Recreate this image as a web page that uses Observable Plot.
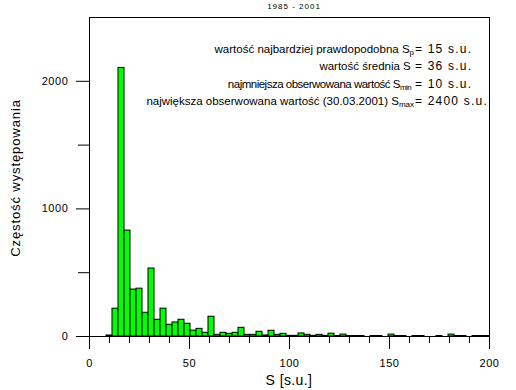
<!DOCTYPE html>
<html>
<head>
<meta charset="utf-8">
<script src="https://cdn.jsdelivr.net/npm/d3@7"></script>
<script src="https://cdn.jsdelivr.net/npm/@observablehq/plot@0.6"></script>
<style>
  html, body { margin: 0; padding: 0; background: #fff; }
</style>
</head>
<body>
<div id="chart"></div>
<script>
// ---- data ----
const title = "1985 - 2001";
const xLabel = "S [s.u.]";
const yLabel = "Częstość występowania";
const binWidth = 3;
const binCenters = [10, 13, 16, 19, 22, 25, 28, 31, 34, 37, 40, 43, 46, 49, 52, 55,
  58, 61, 64, 67, 70, 73, 76, 79, 82, 85, 88, 91, 94, 97, 100, 103,
  106, 109, 112, 115, 118, 121, 124, 127, 130, 133, 136, 139, 142, 145, 148, 151,
  154, 157, 160, 163, 166, 169, 172, 175, 178, 181, 184, 187, 190, 193, 196, 199];
const counts = [8, 218, 2105, 830, 368, 375, 186, 533, 131, 218, 92, 110, 131, 100, 46, 60,
  29, 155, 13, 29, 21, 29, 68, 13, 13, 37, 8, 45, 13, 21, 5, 5,
  24, 13, 5, 13, 5, 22, 4, 15, 4, 4, 4, 0, 4, 4, 0, 15,
  4, 4, 0, 4, 4, 0, 0, 4, 0, 15, 4, 4, 0, 4, 4, 4];
const xMajorTicks = [0, 50, 100, 150, 200];
const xMinorTicks = [10, 20, 30, 40, 60, 70, 80, 90, 110, 120, 130, 140, 160, 170, 180, 190];
const yMajorTicks = [0, 1000, 2000];
const yMinorTicks = [500, 1500];
const annotLeft = [
  ["wartość najbardziej prawdopodobna S", "p", ""],
  ["wartość średnia S ", "", ""],
  ["najmniejsza obserwowana wartość S", "min", " "],
  ["największa obserwowana wartość (30.03.2001) S", "max", ""]
];
const annotRight = ["= 15 s.u.", "= 36 s.u.", "= 10 s.u.", "= 2400 s.u."];

// ---- table ----
const bins = binCenters.map((c, i) => ({center: c, count: counts[i]}));

const FONT = "'Liberation Sans', Arial, sans-serif";

const svg = Plot.plot({
  width: 516,
  height: 390,
  marginLeft: 89,
  marginRight: 27,
  marginTop: 17,
  marginBottom: 54,
  x: {domain: [0, 200]},
  y: {domain: [0, 2500]},
  style: {fontFamily: FONT, fontSize: "11px", color: "black", background: "white", overflow: "visible"},
  marks: [
    Plot.rectY(bins, {
      x1: d => d.center - binWidth / 2,
      x2: d => d.center + binWidth / 2,
      y: "count",
      fill: "#00ff00",
      stroke: "black",
      strokeWidth: 1,
      clip: true
    }),
    Plot.frame({stroke: "black"}),
    Plot.axisX(xMajorTicks, {tickSize: 13, tickPadding: 10, tickFormat: d3.format("d"), label: null, stroke: "black"}),
    Plot.axisX(xMinorTicks, {tickSize: 7, tickFormat: () => "", label: null, stroke: "black"}),
    Plot.axisY(yMajorTicks, {tickSize: 13, tickPadding: 8, tickFormat: d3.format("d"), label: null, stroke: "black"}),
    Plot.axisY(yMinorTicks, {tickSize: 11, tickFormat: () => "", label: null, stroke: "black"})
  ]
});

document.getElementById("chart").appendChild(svg);
const s = d3.select(svg);
s.selectAll('[aria-label="x-axis tick label"] text, [aria-label="y-axis tick label"] text')
  .style("letter-spacing", "0.6px");

// title
s.append("text")
  .attr("x", 294).attr("y", 8.5)
  .attr("text-anchor", "middle")
  .style("font-family", FONT).style("font-size", "8px").style("letter-spacing", "1px")
  .attr("fill", "black")
  .text(title);

// x label
s.append("text")
  .attr("x", 289).attr("y", 385)
  .attr("text-anchor", "middle")
  .style("font-family", FONT).style("font-size", "14px").style("letter-spacing", "0.4px")
  .attr("fill", "black")
  .text(xLabel);

// y label
s.append("text")
  .attr("transform", "translate(20,178) rotate(-90)")
  .attr("text-anchor", "middle")
  .style("font-family", FONT).style("font-size", "13px").style("letter-spacing", "0.9px")
  .attr("fill", "black")
  .text(yLabel);

// annotations
const baselines = [52.5, 70, 87.5, 105];
const leftSpacing = [0, 0, -0.5, 0];
const eqX = 415;
annotLeft.forEach((parts, i) => {
  const t = s.append("text")
    .attr("x", eqX - 1).attr("y", baselines[i])
    .attr("text-anchor", "end")
    .style("font-family", FONT).style("font-size", "11.5px")
    .style("letter-spacing", leftSpacing[i] + "px")
    .attr("fill", "black");
  t.append("tspan").text(parts[0]);
  if (parts[1]) t.append("tspan").attr("dy", 2).style("font-size", "8px").text(parts[1]);
  if (parts[2]) t.append("tspan").text(parts[2]);
  s.append("text")
    .attr("x", eqX).attr("y", baselines[i])
    .attr("text-anchor", "start")
    .style("font-family", FONT).style("font-size", "12px").style("letter-spacing", "1.2px")
    .attr("fill", "black")
    .text(annotRight[i]);
});
</script>
</body>
</html>
